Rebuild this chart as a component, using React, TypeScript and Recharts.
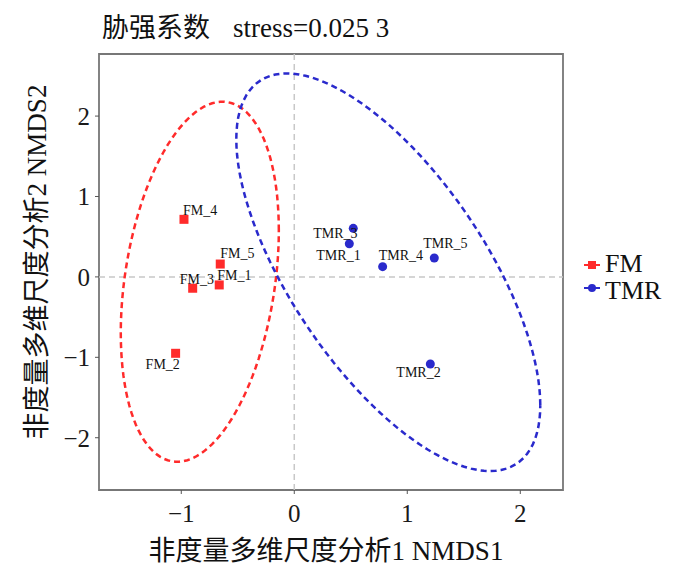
import { ScatterChart, Scatter, XAxis, YAxis, ReferenceLine, ReferenceArea } from 'recharts'

// NMDS scores
const fmNames = ['FM_1', 'FM_2', 'FM_3', 'FM_4', 'FM_5']
const fmX = [-0.664, -1.05, -0.899, -0.976, -0.655]
const fmY = [-0.1, -0.95, -0.141, 0.716, 0.16]

const tmrNames = ['TMR_1', 'TMR_2', 'TMR_3', 'TMR_4', 'TMR_5']
const tmrX = [0.487, 1.204, 0.522, 0.782, 1.239]
const tmrY = [0.413, -1.083, 0.604, 0.127, 0.235]

// ellipse: centre and shape matrix [sxx, syy, sxy]
const fmEllipseCenter = [-0.836, -0.06]
const fmEllipseShape = [0.489, 5.012, 0.446]
const tmrEllipseCenter = [0.832, 0.058]
const tmrEllipseShape = [1.809, 6.114, -2.223]

const xTicks = [-1, 0, 1, 2]
const yTicks = [-2, -1, 0, 1, 2]
const xDomain = [-1.728, 2.378]
const yDomain = [-2.65, 2.772]

// label placement (px, relative to the marker)
const labelOffset: Record<string, [number, number]> = {
  FM_1: [-2, -5],
  FM_2: [-30, 16],
  FM_3: [-13, -4],
  FM_4: [-1, -4],
  FM_5: [0, -6],
  TMR_1: [-33, 16],
  TMR_2: [-34, 13],
  TMR_3: [-40, 10],
  TMR_4: [-4, -7],
  TMR_5: [-11, -10],
}

const RED = '#ff2b2b'
const BLUE = '#2a2acc'
const FONT = '"Liberation Serif", "Noto Sans CJK SC", serif'

const fmData = fmNames.map((name, i) => ({ name, x: fmX[i], y: fmY[i] }))
const tmrData = tmrNames.map((name, i) => ({ name, x: tmrX[i], y: tmrY[i] }))

function ellipse(center: number[], shape: number[]) {
  const [sxx, syy, sxy] = shape
  const l11 = Math.sqrt(sxx)
  const l21 = sxy / l11
  const l22 = Math.sqrt(syy - l21 * l21)
  const pts = []
  for (let i = 0; i <= 120; i++) {
    const t = (i / 120) * Math.PI * 2
    pts.push({ x: center[0] + l11 * Math.cos(t), y: center[1] + l21 * Math.cos(t) + l22 * Math.sin(t) })
  }
  return pts
}

const fmEllipse = ellipse(fmEllipseCenter, fmEllipseShape)
const tmrEllipse = ellipse(tmrEllipseCenter, tmrEllipseShape)

const fmt = (v: number) => (v < 0 ? `\u2212${Math.abs(v)}` : `${v}`)

function PointShape(props: any) {
  const { cx, cy, payload, kind } = props
  const [dx, dy] = labelOffset[payload.name] || [0, 0]
  return (
    <g>
      {kind === 'square' ? (
        <rect x={cx - 4.5} y={cy - 4.5} width={9} height={9} fill={RED} />
      ) : (
        <circle cx={cx} cy={cy} r={4.5} fill={BLUE} />
      )}
      <text x={cx + dx} y={cy + dy} fontSize={14} fontFamily={FONT} fill="#111">
        {payload.name}
      </text>
    </g>
  )
}

export default function App() {
  return (
    <div style={{ position: 'absolute', left: 0, top: 0, width: 700, height: 567, background: '#fff' }}>
      <ScatterChart width={700} height={567} margin={{ top: 54, right: 137, bottom: 37, left: 39 }}>
        <XAxis
          type="number"
          dataKey="x"
          domain={xDomain}
          ticks={xTicks}
          allowDataOverflow
          height={40}
          axisLine={false}
          tickLine={{ stroke: '#555' }}
          tickSize={4}
          tickMargin={10}
          tickFormatter={fmt}
          tick={{ fill: '#1a1a1a', fontSize: 25, fontFamily: FONT }}
        />
        <YAxis
          type="number"
          dataKey="y"
          domain={yDomain}
          ticks={yTicks}
          allowDataOverflow
          width={60}
          axisLine={false}
          tickLine={{ stroke: '#555' }}
          tickSize={4}
          tickMargin={5}
          tickFormatter={fmt}
          tick={{ fill: '#1a1a1a', fontSize: 25, fontFamily: FONT }}
        />
        <ReferenceLine x={0} stroke="#c8c8c8" strokeWidth={1.5} strokeDasharray="6 4" />
        <ReferenceLine y={0} stroke="#c8c8c8" strokeWidth={1.5} strokeDasharray="6 4" />
        <Scatter
          data={fmEllipse}
          line={{ stroke: RED, strokeWidth: 2.5, strokeDasharray: '6 4' }}
          lineType="joint"
          shape={() => <g />}
          isAnimationActive={false}
        />
        <Scatter
          data={tmrEllipse}
          line={{ stroke: BLUE, strokeWidth: 2.5, strokeDasharray: '6 4' }}
          lineType="joint"
          shape={() => <g />}
          isAnimationActive={false}
        />
        <Scatter data={fmData} shape={(p: any) => <PointShape {...p} kind="square" />} isAnimationActive={false} />
        <Scatter data={tmrData} shape={(p: any) => <PointShape {...p} kind="circle" />} isAnimationActive={false} />
        <ReferenceArea
          x1={xDomain[0]}
          x2={xDomain[1]}
          y1={yDomain[0]}
          y2={yDomain[1]}
          fill="none"
          fillOpacity={0}
          stroke="#777"
          strokeWidth={1.8}
        />
      </ScatterChart>
      <svg width={700} height={567} style={{ position: 'absolute', left: 0, top: 0, pointerEvents: 'none' }}>
        <text x={102} y={37} fontSize={27} fontFamily={FONT} fill="#111">
          胁强系数
          <tspan x={233}>stress=0.025 3</tspan>
        </text>
        <text x={326} y={560} fontSize={27} fontFamily={FONT} fill="#111" textAnchor="middle">
          非度量多维尺度分析1 NMDS1
        </text>
        <text
          x={0}
          y={0}
          transform="translate(46 262) rotate(-90)"
          fontSize={27}
          fontFamily={FONT}
          fill="#111"
          textAnchor="middle"
        >
          非度量多维尺度分析2 NMDS2
        </text>
        <line x1={584} x2={600} y1={265} y2={265} stroke={RED} strokeWidth={2} />
        <rect x={588} y={261} width={8} height={8} fill={RED} />
        <text x={605} y={272} fontSize={26} fontFamily={FONT} fill="#111">FM</text>
        <line x1={584} x2={600} y1={288} y2={288} stroke={BLUE} strokeWidth={2} />
        <circle cx={592} cy={288} r={4} fill={BLUE} />
        <text x={605} y={299} fontSize={26} fontFamily={FONT} fill="#111">TMR</text>
      </svg>
    </div>
  )
}
